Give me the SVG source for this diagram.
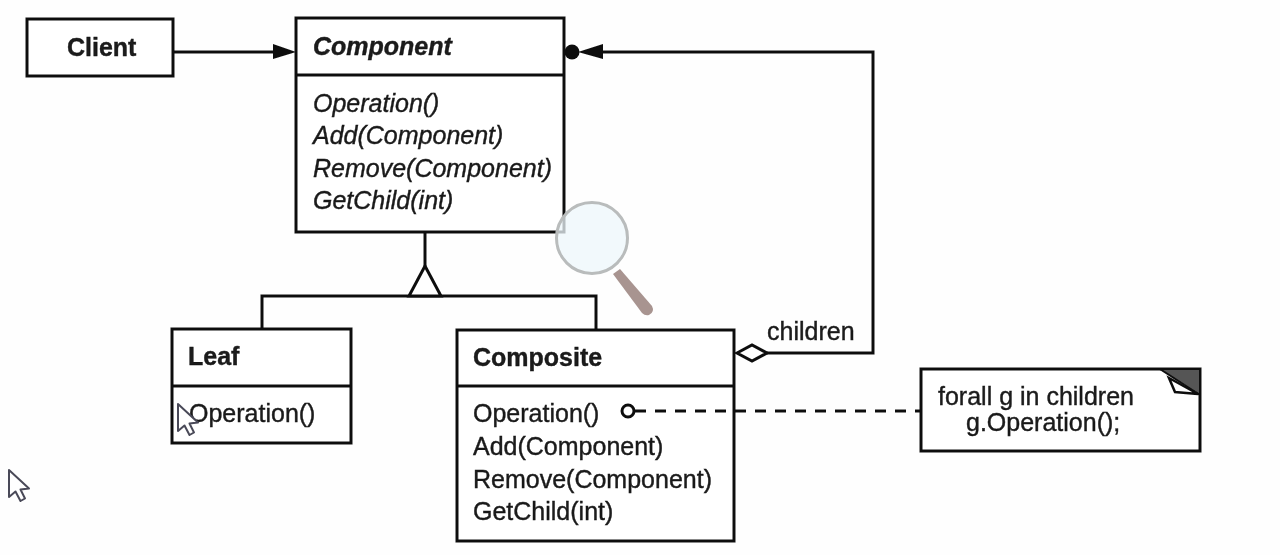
<svg xmlns="http://www.w3.org/2000/svg" width="1280" height="555" viewBox="0 0 1280 555">
<style>
.b{fill:#fff;stroke:#111;stroke-width:3}
.l{fill:none;stroke:#111;stroke-width:3}
.t{font-family:"Liberation Sans",Arial,sans-serif;font-size:25px;fill:#1a1a1a;stroke:#1a1a1a;stroke-width:.4}
.h{font-weight:700}
.i{font-style:italic}
.cur{fill:#fff;stroke:#4a4a58;stroke-width:2;stroke-linejoin:round}
</style>
<defs>
<path id="cursor" d="M0 0V27L6.500 21.500L11.500 31L16 28.500L11.500 19.500L20 18.500Z"/>
<filter id="soft" filterUnits="userSpaceOnUse" x="0" y="0" width="1280" height="555"><feGaussianBlur stdDeviation="0.5"/></filter>
</defs>
<rect width="1280" height="555" fill="#fefefe"/>
<g filter="url(#soft)">
<g id="client"><rect class="b" x="27" y="19" width="146" height="57"/><text class="t h" x="67" y="56">Client</text></g>
<g id="component">
<rect class="b" x="296" y="18" width="268" height="214"/><path class="l" d="M296 75H564"/>
<text class="t h i" x="313" y="55">Component</text>
<text class="t i" x="313" y="112">Operation()</text>
<text class="t i" x="313" y="144">Add(Component)</text>
<text class="t i" x="313" y="177">Remove(Component)</text>
<text class="t i" x="313" y="209">GetChild(int)</text>
</g>
<g id="leaf">
<rect class="b" x="172" y="329" width="179" height="114"/><path class="l" d="M172 386H351"/>
<text class="t h" x="188" y="365">Leaf</text>
<text class="t" x="189" y="422">Operation()</text>
</g>
<g id="composite">
<rect class="b" x="457" y="330" width="277" height="211"/><path class="l" d="M457 386H734"/>
<text class="t h" x="473" y="366">Composite</text>
<text class="t" x="473" y="422">Operation()</text>
<text class="t" x="473" y="455">Add(Component)</text>
<text class="t" x="473" y="488">Remove(Component)</text>
<text class="t" x="473" y="520">GetChild(int)</text>
</g>
<g id="children-label"><text class="t" x="767" y="340">children</text></g>
<g id="note">
<rect class="b" x="921" y="369" width="279" height="82"/>
<path d="M1160 369H1200V395Z" fill="#555" stroke="#111" stroke-width="2"/>
<path d="M1169 378L1198 394L1175 392Z" fill="#fff" stroke="#111" stroke-width="2.500"/>
<text class="t" x="938" y="405">forall g in children</text>
<text class="t" x="966" y="431">g.Operation();</text>
</g>
<g id="connectors">
<path class="l" d="M174 52H282"/>
<path d="M273 44L296 52L273 59Z" fill="#111"/>
<path class="l" d="M596 52H873V353H767"/>
<path d="M603 44L578 52L603 59Z" fill="#111"/>
<circle cx="572" cy="52" r="7.500" fill="#111"/>
<path class="b" d="M737 353L752 345L767 353L752 361Z"/>
<path class="l" d="M425 232V266M262 329V296H596V329"/>
<path class="b" d="M425 266L441 296H409Z"/>
<circle cx="628" cy="411" r="6" fill="#fff" stroke="#111" stroke-width="3"/>
<path class="l" d="M635 411H921" stroke-dasharray="11 9"/>
</g>
<g id="magnifier">
<circle cx="592" cy="238" r="35.500" fill="#eef7fb" fill-opacity=".75" stroke="#b9bcbc" stroke-width="3"/>
<path d="M613 274L620 269L652 306Q655 312 649 315Q645 316 642 313Z" fill="#a89490"/>
</g>
<use href="#cursor" class="cur" x="178" y="404"/>
<use href="#cursor" class="cur" x="9" y="470"/>
</g>
</svg>
